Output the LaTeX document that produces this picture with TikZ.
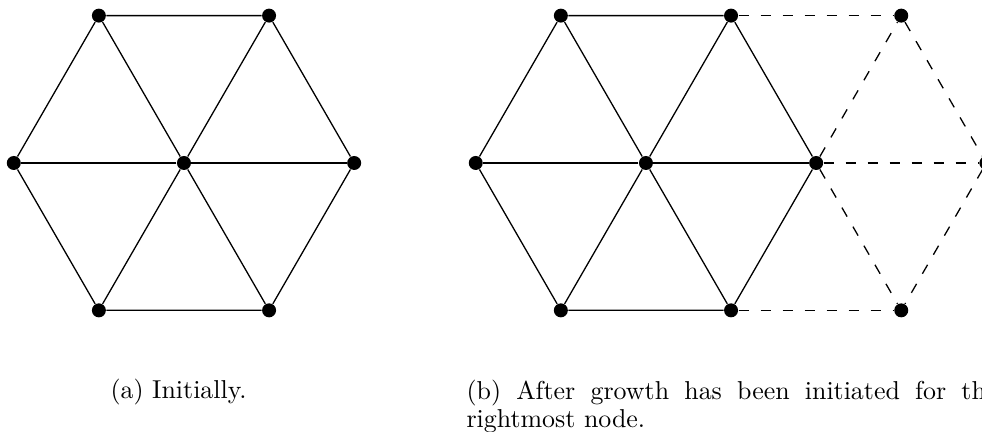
\documentclass[tikz,border=0pt]{standalone}
\usepackage{amsmath,amssymb}
\usepackage{tikz}

\begin{document}
\begin{tikzpicture}[
	x=1cm,y=1cm,
	vertex/.style={circle, fill=black, inner sep=0pt, minimum size=5.4pt},
	edge/.style={line width=0.5pt},
	grown/.style={line width=0.5pt, dash pattern=on 4pt off 4.5pt},
	caption/.style={inner sep=0pt, font={\fontsize{10}{10.8}\selectfont}}
	]
	\useasboundingbox (0,0) rectangle (13.328,5.850);
	
	% --------------------------
	% Left panel: initial hexagon
	% --------------------------
	\begin{scope}[shift={(2.497,3.638)}]
		% nodes
		\node[vertex] (ac)  at (0,0) {};
		\node[vertex] (ar)  at (2.31,0) {};
		\node[vertex] (al)  at (-2.31,0) {};
		\node[vertex] (aur) at (1.155,2.0) {};
		\node[vertex] (aul) at (-1.155,2.0) {};
		\node[vertex] (alr) at (1.155,-2.0) {};
		\node[vertex] (all) at (-1.155,-2.0) {};
		
		% rim
		\draw[edge] (ar) -- (aur) -- (aul) -- (al) -- (all) -- (alr) -- (ar);
		% spokes
		\draw[edge] (ac) -- (ar);
		\draw[edge] (ac) -- (aur);
		\draw[edge] (ac) -- (aul);
		\draw[edge] (ac) -- (al);
		\draw[edge] (ac) -- (all);
		\draw[edge] (ac) -- (alr);
	\end{scope}
	
	\node[caption, anchor=base west] (capa) at (1.493,0.448) {(a) Initially.};
	
	% --------------------------
	% Right panel: after growth
	% --------------------------
	\begin{scope}[shift={(8.767,3.638)}]
		% nodes
		\node[vertex] (bc)  at (0,0) {};
		\node[vertex] (br)  at (2.31,0) {};
		\node[vertex] (bl)  at (-2.31,0) {};
		\node[vertex] (bur) at (1.155,2.0) {};
		\node[vertex] (bul) at (-1.155,2.0) {};
		\node[vertex] (blr) at (1.155,-2.0) {};
		\node[vertex] (bll) at (-1.155,-2.0) {};
		
		% new nodes from growth
		\node[vertex] (nu) at (3.465,2.0) {};
		\node[vertex] (nr) at (4.62,0) {};
		\node[vertex] (nd) at (3.465,-2.0) {};
		
		% rim
		\draw[edge] (br) -- (bur) -- (bul) -- (bl) -- (bll) -- (blr) -- (br);
		% spokes
		\draw[edge] (bc) -- (br);
		\draw[edge] (bc) -- (bur);
		\draw[edge] (bc) -- (bul);
		\draw[edge] (bc) -- (bl);
		\draw[edge] (bc) -- (bll);
		\draw[edge] (bc) -- (blr);
		
		% grown edges
		\draw[grown] (bur) -- (nu);
		\draw[grown] (br) -- (nu);
		\draw[grown] (nu) -- (nr);
		\draw[grown] (br) -- (nr);
		\draw[grown] (br) -- (nd);
		\draw[grown] (nr) -- (nd);
		\draw[grown] (blr) -- (nd);
	\end{scope}
	
	\node[caption, anchor=north west, text width=205pt, align=justify,
		font={\fontsize{10}{10.8}\selectfont\tolerance=10000\hyphenpenalty=10000}]
		(capb) at (6.325,0.70) {(b) After growth has been initiated for the rightmost node.};
	
\end{tikzpicture}
\end{document}
